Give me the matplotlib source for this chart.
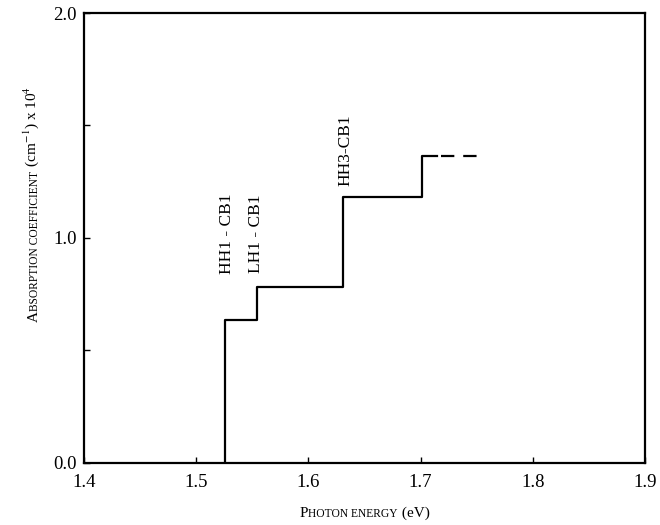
import matplotlib
matplotlib.use("Agg")
import matplotlib.pyplot as plt

plt.rcParams['font.family'] = ['Liberation Serif', 'DejaVu Serif']
plt.rcParams['mathtext.fontset'] = 'stix'

# step edges (eV) and absorption levels (x 10^4 cm^-1)
edge_energy = [1.526, 1.526, 1.554, 1.631, 1.701, 1.7145]
edge_alpha = [0.0, 0.634, 0.78, 1.18, 1.365, 1.365]
tail_energy = [1.7185, 1.750]
tail_alpha = [1.365, 1.365]

trans_labels = ['HH1 - CB1', 'LH1 - CB1', 'HH3-CB1']
trans_x = [1.5275, 1.5537, 1.6326]
trans_y = [1.02, 1.02, 1.388]

xticks = [1.4, 1.5, 1.6, 1.7, 1.8, 1.9]
yticks = [0.0, 0.5, 1.0, 1.5, 2.0]
yticklabels = ['0.0', '', '1.0', '', '2.0']


def small_caps(fig, pieces, pos, vertical=False):
    # chain text pieces of different size one after the other
    if vertical:
        first = fig.text(pos[0], pos[1], pieces[0][0], fontsize=pieces[0][1],
                         rotation=90, ha='right', va='bottom')
    else:
        first = fig.text(pos[0], pos[1], pieces[0][0], fontsize=pieces[0][1],
                         ha='left', va='bottom')
    texts = [first]
    prev = first
    for s, fs in pieces[1:]:
        if vertical:
            t = fig.axes[0].annotate(s, xy=(1, 1), xycoords=prev, fontsize=fs,
                                     rotation=90, ha='right', va='bottom',
                                     annotation_clip=False)
        else:
            t = fig.axes[0].annotate(s, xy=(1, 0), xycoords=prev, fontsize=fs,
                                     ha='left', va='bottom',
                                     annotation_clip=False)
        texts.append(t)
        prev = t
    return texts


fig = plt.figure(figsize=(6.6, 5.25), dpi=100)
ax = fig.add_axes([0.1273, 0.1187, 0.85, 0.8565])

ax.step(edge_energy, edge_alpha, where='post', color='black', lw=1.6)
ax.plot(tail_energy, tail_alpha, color='black', lw=1.6, linestyle=(0, (6, 4)))

for lab, x, y in zip(trans_labels, trans_x, trans_y):
    ax.text(x, y, lab, rotation=90, ha='center', va='center', fontsize=12.5)

ax.set_xlim(1.4, 1.9)
ax.set_ylim(0.0, 2.0)
ax.set_xticks(xticks)
ax.set_xticklabels([f'{v:.1f}' for v in xticks])
ax.set_yticks(yticks)
ax.set_yticklabels(yticklabels)
ax.tick_params(direction='in', length=4, width=1, labelsize=13.5, pad=5)
ax.tick_params(axis='x', pad=8)
for sp in ax.spines.values():
    sp.set_linewidth(1.6)

xl = small_caps(fig, [('P', 11), ('HOTON ENERGY', 8.3), (' (eV)', 11)],
                (0.45, 0.02))
yl = small_caps(fig, [('A', 11), ('BSORPTION COEFFICIENT', 8.3),
                      (r' (cm$^{-1}$) x 10$^{4}$', 11)],
                (0.06, 0.2), vertical=True)

# place the labels (centres, in pixels)
fig.canvas.draw()
r = fig.canvas.get_renderer()
axbb = ax.get_window_extent(r)
W, H = fig.bbox.width, fig.bbox.height

bbs = [t.get_window_extent(r) for t in xl]
x0 = min(b.x0 for b in bbs)
x1 = max(b.x1 for b in bbs)
dx = (axbb.x0 + axbb.x1) / 2 - (x0 + x1) / 2
xl[0].set_position((xl[0].get_position()[0] + dx / W, 1 - 520 / H))

bbs = [t.get_window_extent(r) for t in yl]
y0 = min(b.y0 for b in bbs)
y1 = max(b.y1 for b in bbs)
dy = (H - 204) - (y0 + y1) / 2
yl[0].set_position((41 / W, yl[0].get_position()[1] + dy / H))

fig.savefig('out.png', dpi=100)
